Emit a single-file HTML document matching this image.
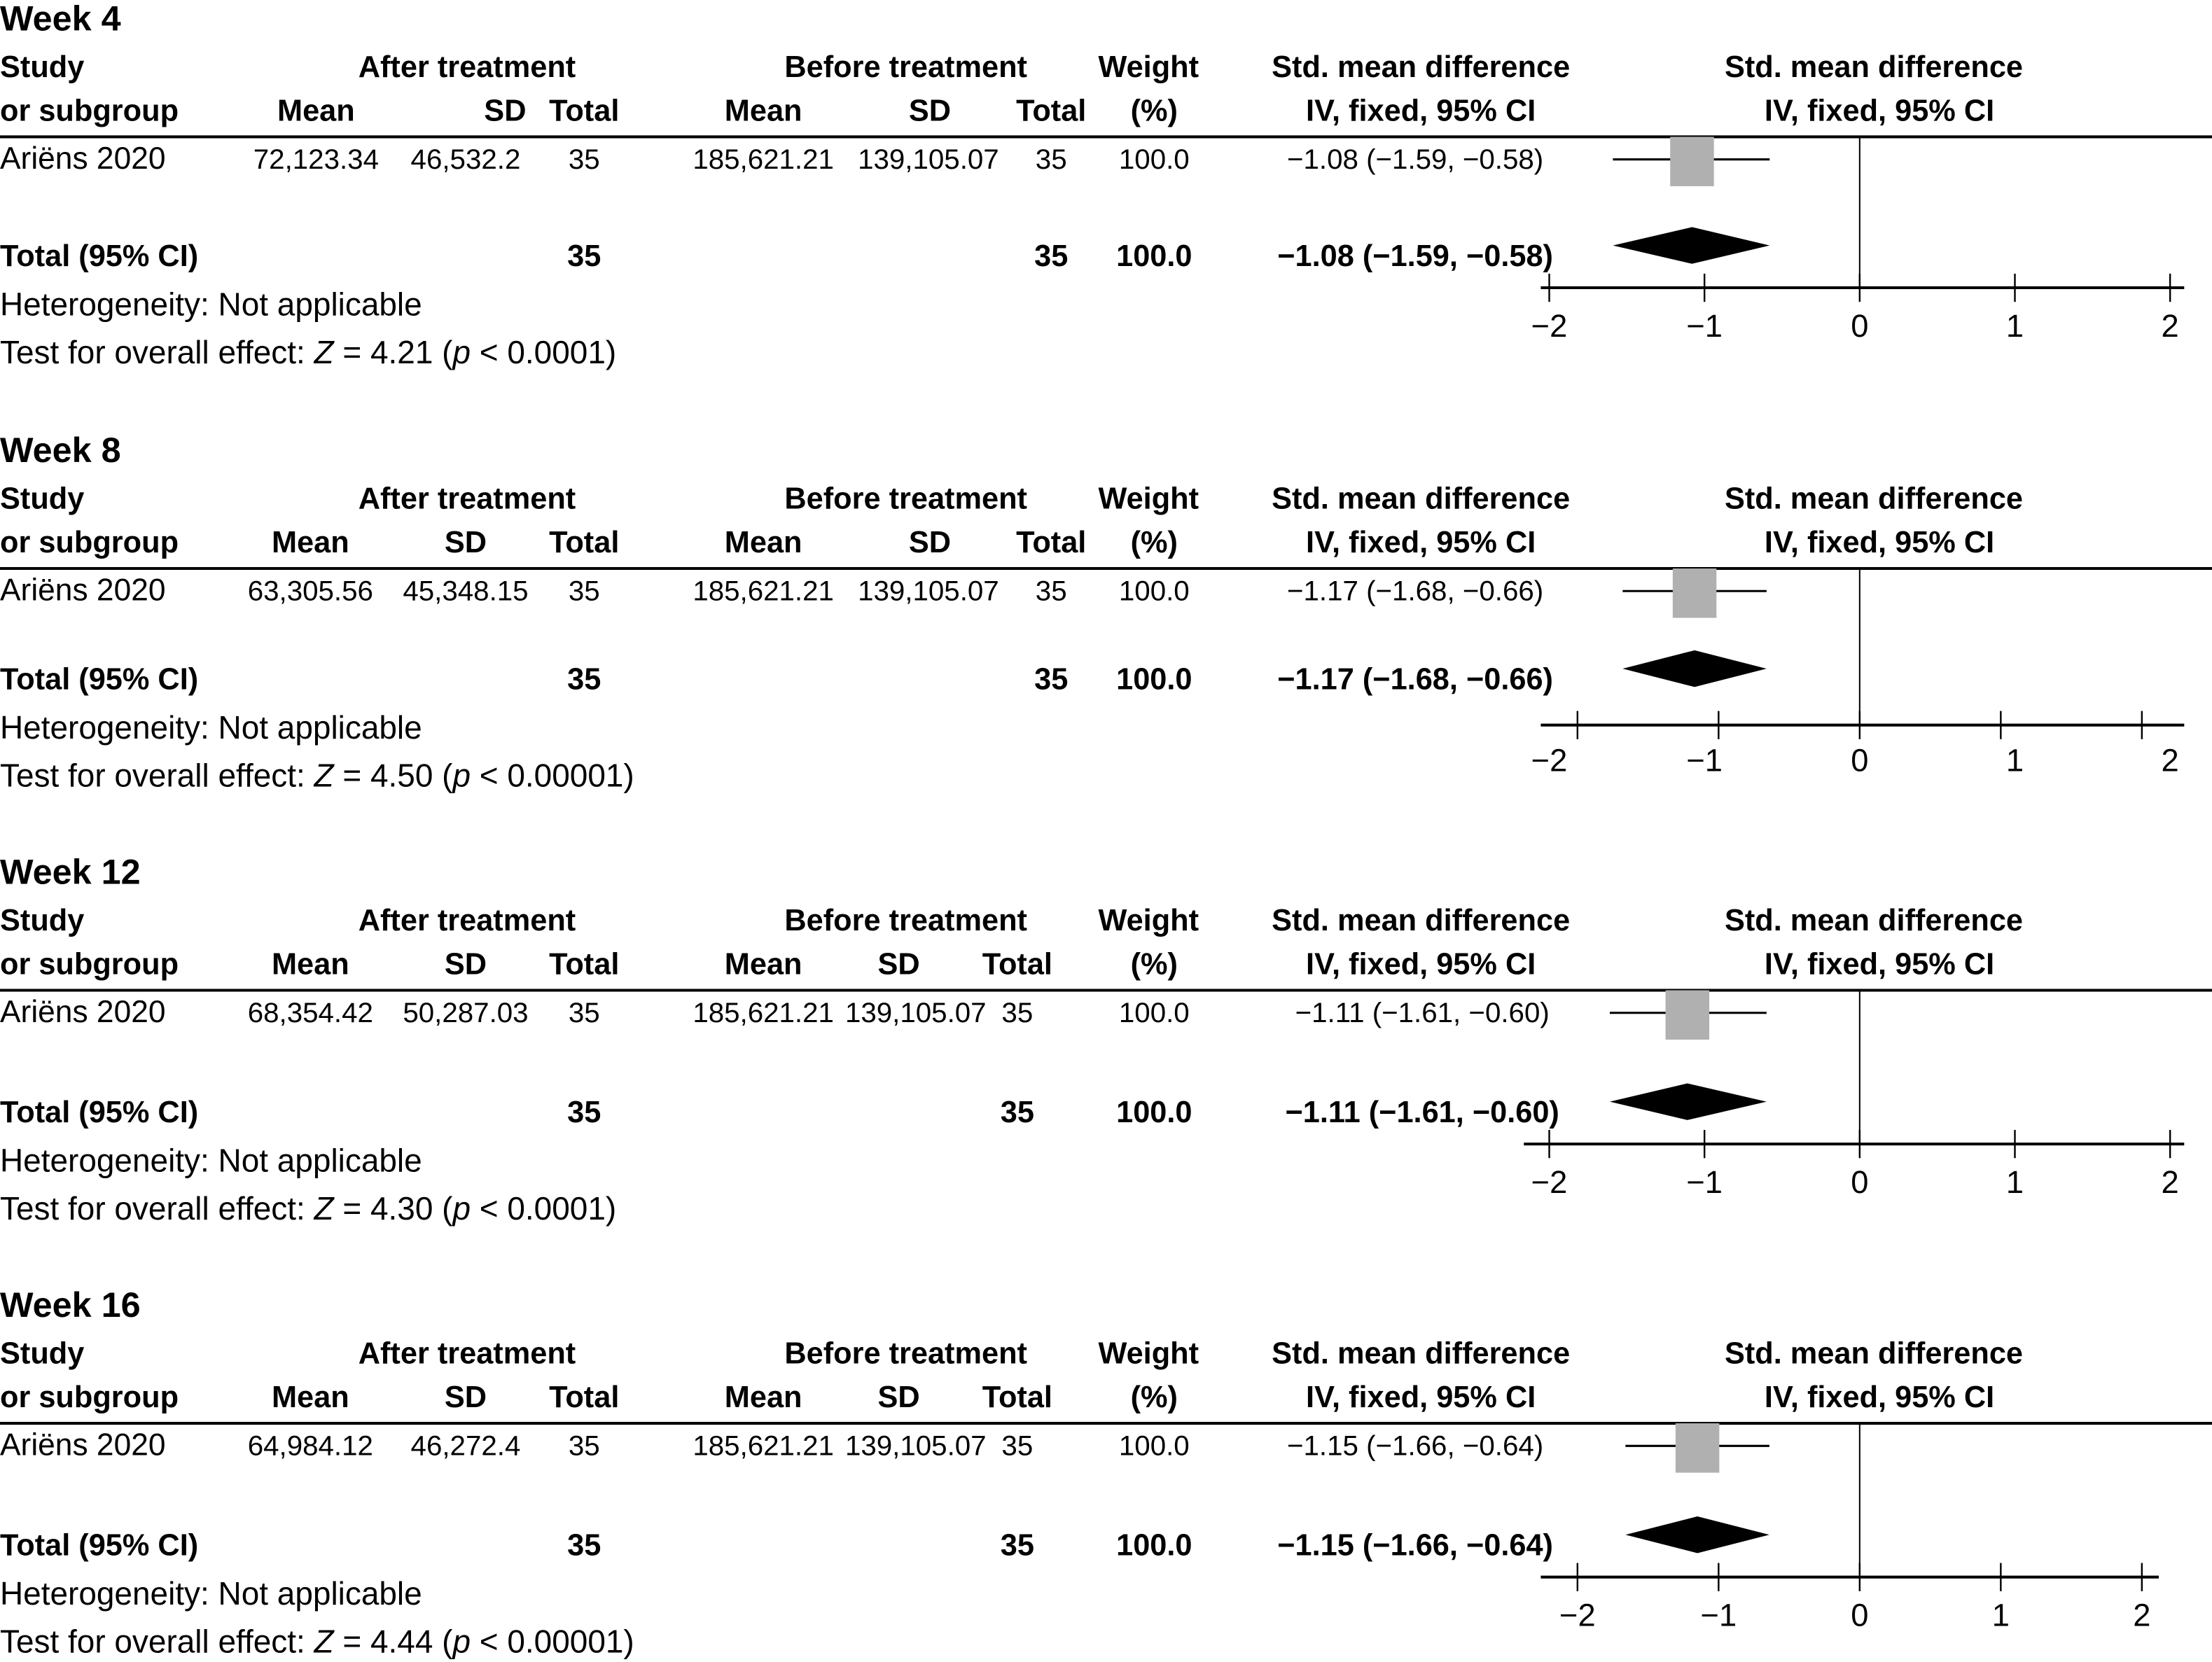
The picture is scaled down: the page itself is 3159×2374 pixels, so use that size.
<!DOCTYPE html>
<html><head><meta charset="utf-8">
<style>
html,body{margin:0;padding:0;background:#fff;}
svg{display:block;}
text{font-family:"Liberation Sans",sans-serif;fill:#000;}
</style></head>
<body>
<svg id="chart" width="3159" height="2374" viewBox="0 0 1567.7 1178.2" preserveAspectRatio="none" xmlns="http://www.w3.org/2000/svg"></svg>
<script>
// ---- data ----
const weeks = ["Week 4","Week 8","Week 12","Week 16"];
const afterMean = ["72,123.34","63,305.56","68,354.42","64,984.12"];
const afterSD = ["46,532.2","45,348.15","50,287.03","46,272.4"];
const afterTotal = [35,35,35,35];
const beforeMean = ["185,621.21","185,621.21","185,621.21","185,621.21"];
const beforeSD = ["139,105.07","139,105.07","139,105.07","139,105.07"];
const beforeTotal = [35,35,35,35];
const weightPct = ["100.0","100.0","100.0","100.0"];
const estimates = [-1.08,-1.17,-1.11,-1.15];
const ciLow = [-1.59,-1.68,-1.61,-1.66];
const ciHigh = [-0.58,-0.66,-0.60,-0.64];
const zValues = ["4.21","4.50","4.30","4.44"];
const pValues = ["0.0001","0.00001","0.0001","0.00001"];
const tickValues = [-2,-1,0,1,2];
const tickLabels = ["\u22122","\u22121","0","1","2"];

// ---- layout (not data) ----
const panelTop = [13,319,618,925];
const totalOff = [168,162,170,170];
const axisOff = [191,195,193,193];
const labOff = [218,220,220,220];
const pxPerUnit = [110,100,110,100];
const labelPx = [110,110,110,100];
const labelX0 = [1318,1318,1318,1318];
const axisSpan = [[1092,1548],[1092,1548],[1080,1548],[1092,1530]];
const bCols = [[541,659,745],[541,659,745],[541,637,721],[541,637,721]];
const bValCols = [[541,658,745],[541,658,745],[541,649,721],[541,649,721]];
const aMeanX = [224,220,220,220];
const ciX = [1003,1003,1008,1003];
const zeroX = 1318;
const FS = 21.5;
const FN = 20;

const svg = document.getElementById('chart');
const NS = "http://www.w3.org/2000/svg";
function mk(tag, attrs, parent){
  const e = document.createElementNS(NS, tag);
  for (const k in attrs) e.setAttribute(k, attrs[k]);
  (parent||svg).appendChild(e);
  return e;
}
function txt(g, x, y, s, anchor, bold, size){
  const t = mk('text', {x:x, y:y+7.6, 'text-anchor':anchor||'start', 'font-size':size||FS, 'font-weight':bold?'bold':'normal'}, g);
  t.textContent = s;
  return t;
}

for (let i=0;i<weeks.length;i++){
  const T = panelTop[i];
  const g = mk('g', {});
  
  
  const xs = v => zeroX + v*pxPerUnit[i];

  let t = txt(g, 0, T+1, weeks[i], 'start', true, 25);
  
  

  const h1 = T+34, h2 = T+65;
  const hdr = mk('g', {}, g);
  
  
  txt(hdr, 0, h1, "Study", 'start', true);
  txt(hdr, 0, h2, "or subgroup", 'start', true);
  txt(hdr, 331, h1, "After treatment", 'middle', true);
  txt(hdr, aMeanX[i], h2, "Mean", 'middle', true);
  txt(hdr, i===0?358:330, h2, "SD", 'middle', true);
  txt(hdr, 414, h2, "Total", 'middle', true);
  txt(hdr, 642, h1, "Before treatment", 'middle', true);
  txt(hdr, bCols[i][0], h2, "Mean", 'middle', true);
  txt(hdr, bCols[i][1], h2, "SD", 'middle', true);
  txt(hdr, bCols[i][2], h2, "Total", 'middle', true);
  txt(hdr, 814, h1, "Weight", 'middle', true);
  txt(hdr, 818, h2, "(%)", 'middle', true);
  txt(hdr, 1007, h1, "Std. mean difference", 'middle', true);
  txt(hdr, 1007, h2, "IV, fixed, 95% CI", 'middle', true);
  txt(hdr, 1328, h1, "Std. mean difference", 'middle', true);
  txt(hdr, 1332, h2, "IV, fixed, 95% CI", 'middle', true);

  const lineY = T+84;
  let l = mk('line', {x1:0, x2:1568, y1:lineY, y2:lineY, stroke:'#000', 'stroke-width':2}, g);
  
  

  const ry = T+99;
  const row = mk('g', {}, g);
  
  
  txt(row, 0, ry, "Ariëns 2020", 'start', false, 22);
  txt(row, aMeanX[i], ry, afterMean[i], 'middle', false, FN);
  txt(row, 330, ry, afterSD[i], 'middle', false, FN);
  txt(row, 414, ry, String(afterTotal[i]), 'middle', false, FN);
  txt(row, bValCols[i][0], ry, beforeMean[i], 'middle', false, FN);
  txt(row, bValCols[i][1], ry, beforeSD[i], 'middle', false, FN);
  txt(row, bValCols[i][2], ry, String(beforeTotal[i]), 'middle', false, FN);
  txt(row, 818, ry, weightPct[i], 'middle', false, FN);
  const ciStr = v => (v<0?"\u2212":"") + Math.abs(v).toFixed(2);
  txt(row, ciX[i], ry, ciStr(estimates[i])+" ("+ciStr(ciLow[i])+", "+ciStr(ciHigh[i])+")", 'middle', false, FN);

  const ty = T+totalOff[i];
  const tot = mk('g', {}, g);
  
  
  txt(tot, 0, ty, "Total (95% CI)", 'start', true);
  txt(tot, 414, ty, String(afterTotal[i]), 'middle', true);
  txt(tot, bValCols[i][2], ty, String(beforeTotal[i]), 'middle', true);
  txt(tot, 818, ty, weightPct[i], 'middle', true);
  txt(tot, ciX[i], ty, ciStr(estimates[i])+" ("+ciStr(ciLow[i])+", "+ciStr(ciHigh[i])+")", 'middle', true);

  t = txt(g, 0, ty+35, "Heterogeneity: Not applicable", 'start', false, 22.8);
  
  
  t = mk('text', {x:0, y:ty+69+7.6, 'font-size':22.8}, g);
  
  
  t.innerHTML = 'Test for overall effect: <tspan font-style="italic">Z</tspan> = ' + zValues[i] + ' (<tspan font-style="italic">p</tspan> &lt; ' + pValues[i] + ')';

  // plot
  const ay = T+axisOff[i];
  l = mk('line', {x1:zeroX, x2:zeroX, y1:lineY, y2:ay, stroke:'#000', 'stroke-width':1}, g);
  
  
  l = mk('line', {x1:axisSpan[i][0], x2:axisSpan[i][1], y1:ay, y2:ay, stroke:'#000', 'stroke-width':2}, g);
  
  
  for (let k=0;k<tickValues.length;k++){
    const tx = xs(tickValues[k]);
    const tk = mk('line', {x1:tx, x2:tx, y1:ay-10, y2:ay+10, stroke:'#000', 'stroke-width':1.2}, g);
    
    
    const lx = labelX0[i] + tickValues[k]*labelPx[i];
    const tl = txt(g, lx, T+labOff[i], tickLabels[k], 'middle', false, 22.5);
    
    
  }
  const cy = lineY+16;
  l = mk('line', {x1:xs(ciLow[i]), x2:xs(ciHigh[i]), y1:cy, y2:cy, stroke:'#000', 'stroke-width':1.5}, g);
  
  
  const sq = mk('rect', {x:xs(estimates[i])-15.5, y:lineY, width:31, height:35, fill:'#b0b0b0'}, g);
  
  
  const dy = ty-7;
  const d = mk('polygon', {points:[xs(ciLow[i])+"," + dy, xs(estimates[i])+","+(dy-13), xs(ciHigh[i])+","+dy, xs(estimates[i])+","+(dy+13)].join(" "), fill:'#000'}, g);
  
  
}
</script>
</body></html>
